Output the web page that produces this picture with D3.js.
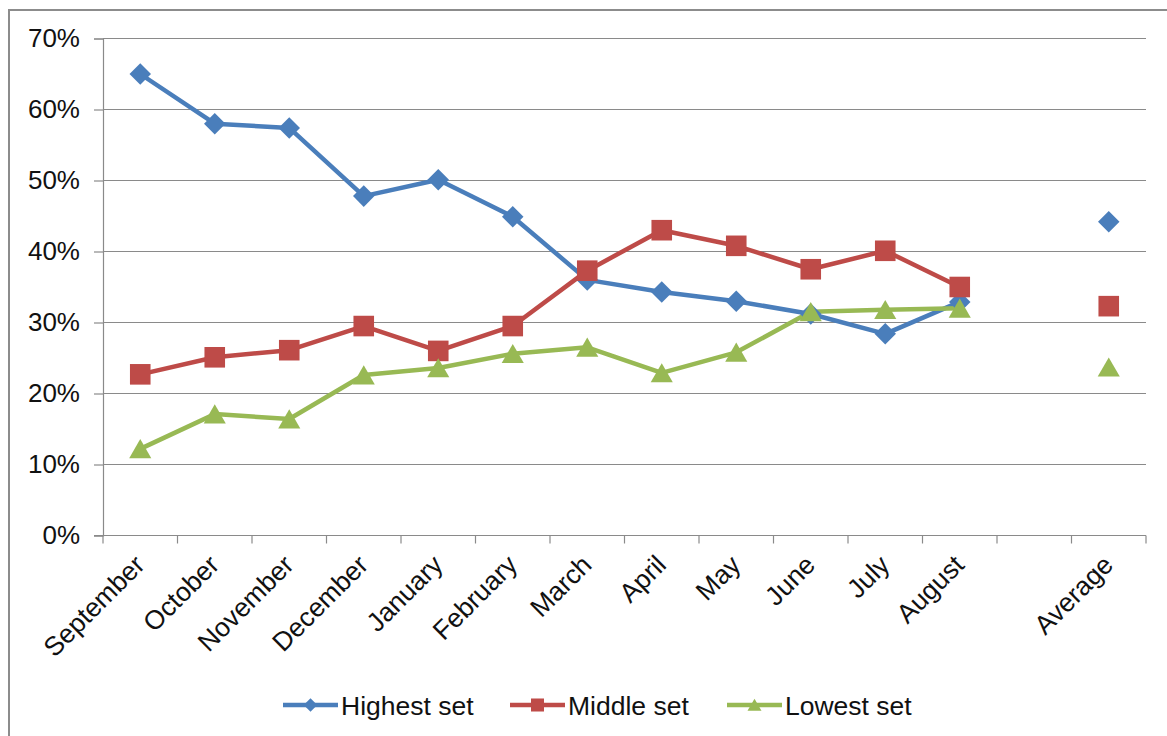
<!DOCTYPE html>
<html>
<head>
<meta charset="utf-8">
<script src="https://cdn.jsdelivr.net/npm/d3@7"></script>
<style>
  body { margin: 0; background: #fff; }
  svg { display: block; font-family: "Liberation Sans", Arial, sans-serif; }
</style>
</head>
<body>
<div id="chart"></div>
<script>
"use strict";

// categories, with one empty slot before the average
const categories = ["September", "October", "November", "December", "January", "February",
  "March", "April", "May", "June", "July", "August", "", "Average"];
const months = categories.slice(0, 12);

const highestSet = [65, 58, 57.4, 47.8, 50.1, 44.9, 36, 34.3, 33, 31.2, 28.4, 32.9];
const middleSet  = [22.7, 25.1, 26.1, 29.5, 26, 29.5, 37.3, 43, 40.8, 37.5, 40.1, 35];
const lowestSet  = [12.2, 17.1, 16.4, 22.6, 23.6, 25.6, 26.5, 22.9, 25.8, 31.5, 31.8, 32];
const averages   = [44.2, 32.3, 23.7];

const seriesNames = ["Highest set", "Middle set", "Lowest set"];
const yTicks = [0, 10, 20, 30, 40, 50, 60, 70];

const series = [
  { name: seriesNames[0], values: highestSet, avg: averages[0], color: "#4A7EBB", symbol: d3.symbolDiamond2, size: 295, dy: 0 },
  { name: seriesNames[1], values: middleSet,  avg: averages[1], color: "#BE4B48", symbol: d3.symbolSquare2, size: 540, dy: 0 },
  { name: seriesNames[2], values: lowestSet,  avg: averages[2], color: "#98B954", symbol: d3.symbolTriangle2, size: 350, dy: 3 }
];

const W = 1167, H = 736;
const plotLeft = 103, plotRight = 1146, plotTop = 38.5, plotBottom = 535.5;
const axisColor = "#8a8a8a";

const svg = d3.select("#chart").append("svg")
    .attr("width", W)
    .attr("height", H);

// outer chart border
svg.append("path")
    .attr("d", "M9," + H + "V10H" + W)
    .attr("fill", "none")
    .attr("stroke", "#8c8c8c")
    .attr("stroke-width", 2);

const x = d3.scaleBand().domain(categories).range([plotLeft, plotRight]).padding(0);
const y = d3.scaleLinear().domain([0, 70]).range([plotBottom, plotTop]);
const cx = c => x(c) + x.bandwidth() / 2;

// gridlines
svg.append("g")
    .selectAll("line")
    .data(yTicks.slice(1))
    .enter().append("line")
    .attr("x1", plotLeft).attr("x2", plotRight)
    .attr("y1", d => y(d)).attr("y2", d => y(d))
    .attr("stroke", axisColor)
    .attr("stroke-width", 1.2);

// y axis
const yAxis = svg.append("g")
    .attr("transform", "translate(" + plotLeft + ",0)")
    .call(d3.axisLeft(y).tickValues(yTicks).tickFormat(d => d + "%").tickSize(9).tickPadding(14));
yAxis.select(".domain").attr("stroke", axisColor).attr("stroke-width", 1.2);
yAxis.selectAll(".tick line").attr("stroke", axisColor).attr("stroke-width", 1.2);
yAxis.selectAll("text").attr("font-size", 26).attr("fill", "#111")
    .attr("font-family", "Liberation Sans, Arial, sans-serif");

// x axis with ticks between categories
const xAxis = svg.append("g")
    .attr("transform", "translate(0," + plotBottom + ")");
xAxis.append("line")
    .attr("x1", plotLeft - 9).attr("x2", plotRight)
    .attr("stroke", axisColor).attr("stroke-width", 1.2);
xAxis.selectAll(".xt")
    .data(categories.concat(["end"]))
    .enter().append("line")
    .attr("x1", (d, i) => plotLeft + i * x.bandwidth())
    .attr("x2", (d, i) => plotLeft + i * x.bandwidth())
    .attr("y1", 0).attr("y2", 8)
    .attr("stroke", axisColor).attr("stroke-width", 1.2);
xAxis.selectAll(".xl")
    .data(categories.filter(c => c !== ""))
    .enter().append("text")
    .attr("transform", d => "translate(" + (cx(d) + 6) + ",31) rotate(-45)")
    .attr("text-anchor", "end")
    .attr("font-size", 26.5)
    .attr("fill", "#111")
    .text(d => d);

// lines
const line = d3.line()
    .x((d, i) => cx(months[i]))
    .y(d => y(d));

series.forEach(s => {
  svg.append("path")
      .datum(s.values)
      .attr("fill", "none")
      .attr("stroke", s.color)
      .attr("stroke-width", 4.5)
      .attr("stroke-linejoin", "round")
      .attr("d", line);
});

series.forEach(s => {
  const sym = d3.symbol().type(s.symbol).size(s.size);
  const pts = s.values.map((v, i) => ({ c: months[i], v: v })).concat([{ c: "Average", v: s.avg }]);
  svg.append("g")
      .selectAll("path")
      .data(pts)
      .enter().append("path")
      .attr("d", sym)
      .attr("transform", d => "translate(" + cx(d.c) + "," + (y(d.v) + s.dy) + ")")
      .attr("fill", s.color);
});

// legend
const legendX = [283, 510, 727];
const legend = svg.append("g").attr("transform", "translate(0,705)");
series.forEach((s, i) => {
  const g = legend.append("g").attr("transform", "translate(" + legendX[i] + ",0)");
  g.append("line")
      .attr("x1", 0).attr("x2", 55)
      .attr("stroke", s.color).attr("stroke-width", 4.5);
  g.append("path")
      .attr("d", d3.symbol().type(s.symbol).size(s.size * 0.4))
      .attr("transform", "translate(27.5," + s.dy * 0.6 + ")")
      .attr("fill", s.color);
  g.append("text")
      .attr("x", 58).attr("y", 9.5)
      .attr("font-size", 26.5)
      .attr("fill", "#111")
      .text(s.name);
});
</script>
</body>
</html>
